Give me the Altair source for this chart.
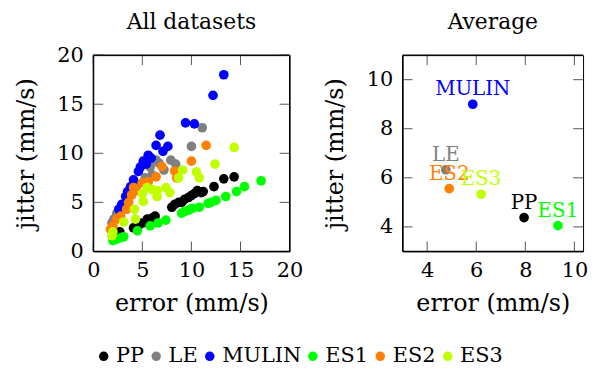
import altair as alt
import pandas as pd

FONT = "DejaVu Serif"

SERIES = ["PP", "LE", "MULIN", "ES1", "ES2", "ES3"]
COLORS = ["#000000", "#808080", "#0000ff", "#00ff00", "#ff8000", "#bfff00"]

# ---- All datasets (error, jitter) ----
pp_x = [2.4, 2.7, 4.1, 4.6, 5.0, 5.5, 6.0, 6.3, 8.0, 8.3, 8.7, 9.0, 9.3, 9.7, 10.0, 10.3, 10.6, 11.0, 11.2, 12.3, 13.3, 14.35]
pp_y = [1.9, 2.0, 2.4, 2.6, 2.9, 3.3, 3.4, 3.6, 4.5, 4.8, 5.0, 5.0, 5.3, 5.5, 5.7, 5.9, 6.2, 6.0, 6.1, 6.6, 7.4, 7.6]

le_x = [1.9, 2.1, 2.4, 2.6, 2.9, 3.3, 3.9, 4.5, 5.3, 5.8, 6.0, 6.4, 6.7, 7.2, 7.9, 8.4, 10.0, 11.1]
le_y = [2.9, 3.3, 3.9, 3.4, 4.3, 4.8, 5.8, 6.8, 7.5, 8.6, 7.8, 9.3, 9.0, 8.3, 9.3, 8.9, 10.7, 12.6]

mulin_x = [2.6, 2.9, 3.3, 3.5, 3.8, 4.1, 4.6, 4.8, 5.1, 5.4, 5.6, 5.9, 6.4, 7.1, 6.8, 7.6, 9.4, 10.3, 12.2, 13.3]
mulin_y = [4.3, 4.8, 5.6, 6.1, 6.6, 7.3, 8.15, 8.6, 9.2, 8.9, 9.8, 9.5, 10.8, 10.2, 11.85, 10.7, 13.1, 13.0, 15.9, 18.0]

es1_x = [2.0, 2.4, 2.8, 3.1, 4.5, 5.8, 6.6, 7.4, 9.0, 9.35, 9.7, 10.1, 10.8, 11.7, 12.0, 12.5, 13.5, 14.6, 15.4, 17.1]
es1_y = [1.1, 1.25, 1.4, 1.5, 2.1, 2.6, 2.9, 3.2, 3.9, 4.1, 4.2, 4.4, 4.5, 4.9, 5.0, 5.2, 5.6, 6.1, 6.6, 7.2]

es2_x = [1.75, 2.0, 2.4, 2.8, 3.4, 3.6, 3.9, 4.1, 4.4, 5.0, 5.6, 6.4, 7.0, 8.3, 8.5, 10.0, 11.5]
es2_y = [2.25, 2.6, 3.3, 3.6, 4.3, 5.0, 5.75, 6.5, 6.2, 7.0, 7.1, 7.6, 8.65, 8.2, 7.5, 9.2, 10.8]

es3_x = [1.9, 2.0, 3.1, 4.3, 4.2, 5.1, 5.0, 5.5, 6.0, 6.5, 6.5, 7.4, 7.8, 8.7, 9.1, 10.5, 10.8, 12.4, 14.35]
es3_y = [1.6, 2.0, 3.0, 3.3, 4.3, 5.1, 5.9, 6.5, 6.3, 6.2, 5.6, 6.5, 6.0, 7.5, 8.3, 8.1, 7.5, 8.9, 10.6]

# ---- Average per dataset ----
avg_x = [7.95, 4.76, 5.86, 9.33, 4.9, 6.2]
avg_y = [4.38, 6.33, 9.0, 4.05, 5.56, 5.33]

# tick values
left_ticks = [0, 5, 10, 15, 20]
right_ticks = [4, 6, 8, 10]

W = 198          # left panel plot width
WR = 182         # right panel plot width (reference is cropped at the window edge)
H = 198
TICK_PX = 10
TICKC = "#555555"

color_scale = alt.Scale(domain=SERIES, range=COLORS)


def xaxis(values):
    return alt.Axis(values=values, ticks=False, domain=False, grid=False,
                    labelFlush=False, labelOverlap=False,
                    labelPadding=8, title="error (mm/s)", titlePadding=12)


def yaxis(values):
    return alt.Axis(values=values, ticks=False, domain=False, grid=False,
                    labelFlush=False, labelOverlap=False,
                    labelPadding=10, title="jitter (mm/s)", titlePadding=19)


def panel_table(point_rows, ticks, xdom, ydom, w, right_edge=True):
    """One table per panel: points plus the frame and tick segments."""
    x0, x1 = xdom
    y0, y1 = ydom
    lx = TICK_PX * (x1 - x0) / w
    ly = TICK_PX * (y1 - y0) / H
    rows = [dict(r, kind="pt", x2=r["x"], y2=r["y"]) for r in point_rows]
    for t in ticks:
        rows.append({"kind": "tick", "s": "", "x": t, "x2": t, "y": y0, "y2": y0 + ly})
        rows.append({"kind": "tick", "s": "", "x": t, "x2": t, "y": y1 - ly, "y2": y1})
        rows.append({"kind": "tick", "s": "", "x": x0, "x2": x0 + lx, "y": t, "y2": t})
        rows.append({"kind": "tick", "s": "", "x": x1 - lx, "x2": x1, "y": t, "y2": t})
    rows.append({"kind": "frame", "s": "", "x": x0, "x2": x0, "y": y0, "y2": y1})
    rows.append({"kind": "frame", "s": "", "x": x0, "x2": x1, "y": y0, "y2": y0})
    rows.append({"kind": "frame", "s": "", "x": x0, "x2": x1, "y": y1, "y2": y1})
    if right_edge:
        rows.append({"kind": "frame", "s": "", "x": x1, "x2": x1, "y": y0, "y2": y1})
    return pd.DataFrame(rows)


series_data = [(pp_x, pp_y), (le_x, le_y), (mulin_x, mulin_y),
               (es1_x, es1_y), (es2_x, es2_y), (es3_x, es3_y)]
pts_rows = []
for name, (xs, ys) in zip(SERIES, series_data):
    for a, b in zip(xs, ys):
        pts_rows.append({"x": a, "y": b, "s": name})
avg_rows = [{"x": a, "y": b, "s": n} for n, a, b in zip(SERIES, avg_x, avg_y)]

XL, YL = [0, 20], [0, 20]
XR, YR = [3, 3 + 8 * WR / 198], [3, 11]

df_l = panel_table(pts_rows, left_ticks, XL, YL, W)
df_r = panel_table(avg_rows, right_ticks, XR, YR, WR, right_edge=False)


def panel(df, ticks, xdom, ydom, w, title, toff, legend, labels):
    xs = alt.Scale(domain=xdom, nice=False, zero=False)
    ys = alt.Scale(domain=ydom, nice=False, zero=False)
    base = alt.Chart(df)
    X = alt.X("x:Q", scale=xs, axis=xaxis(ticks))
    Y = alt.Y("y:Q", scale=ys, axis=yaxis(ticks))
    pts = base.transform_filter(alt.datum.kind == "pt").mark_circle(size=95, opacity=1).encode(
        x=X, y=Y, color=alt.Color("s:N", scale=color_scale, sort=SERIES, legend=legend))
    layers = [pts]
    if labels:
        layers.append(base.transform_filter(alt.datum.kind == "pt").mark_text(
            font=FONT, fontSize=20, baseline="alphabetic", align="center", dy=-9).encode(
            x=X, y=Y, text="s:N",
            color=alt.Color("s:N", scale=color_scale, legend=None)))
    layers.append(base.transform_filter(alt.datum.kind == "tick").mark_rule(
        color=TICKC, strokeWidth=1).encode(x=X, x2="x2:Q", y=Y, y2="y2:Q"))
    layers.append(base.transform_filter(alt.datum.kind == "frame").mark_rule(
        color="black", strokeWidth=1.2).encode(x=X, x2="x2:Q", y=Y, y2="y2:Q"))
    return alt.layer(*layers).properties(
        width=w, height=H,
        title=alt.TitleParams(title, font=FONT, fontSize=22, fontWeight="normal",
                              offset=toff, anchor="middle", color="black"))


legend = alt.Legend(orient="bottom", direction="horizontal", title=None,
                    offset=29, symbolType="circle", symbolSize=90,
                    symbolStrokeWidth=0, labelOffset=2, columnPadding=1,
                    labelFont=FONT, labelFontSize=21, labelColor="black")

left = panel(df_l, left_ticks, XL, YL, W, "All datasets", 10, legend, False)
right = panel(df_r, right_ticks, XR, YR, WR, "Average", 21, None, True)

chart = alt.hconcat(left, right, spacing=19).properties(
    padding={"left": 5, "top": 0, "right": 0, "bottom": 0}
).configure_view(stroke="black", strokeWidth=1).configure_axis(
    labelFont=FONT, labelFontSize=21, labelColor="black",
    titleFont=FONT, titleFontSize=24, titleFontWeight="normal", titleColor="black"
)

chart.save("out.html", embed_options={"renderer": "svg", "actions": False})
